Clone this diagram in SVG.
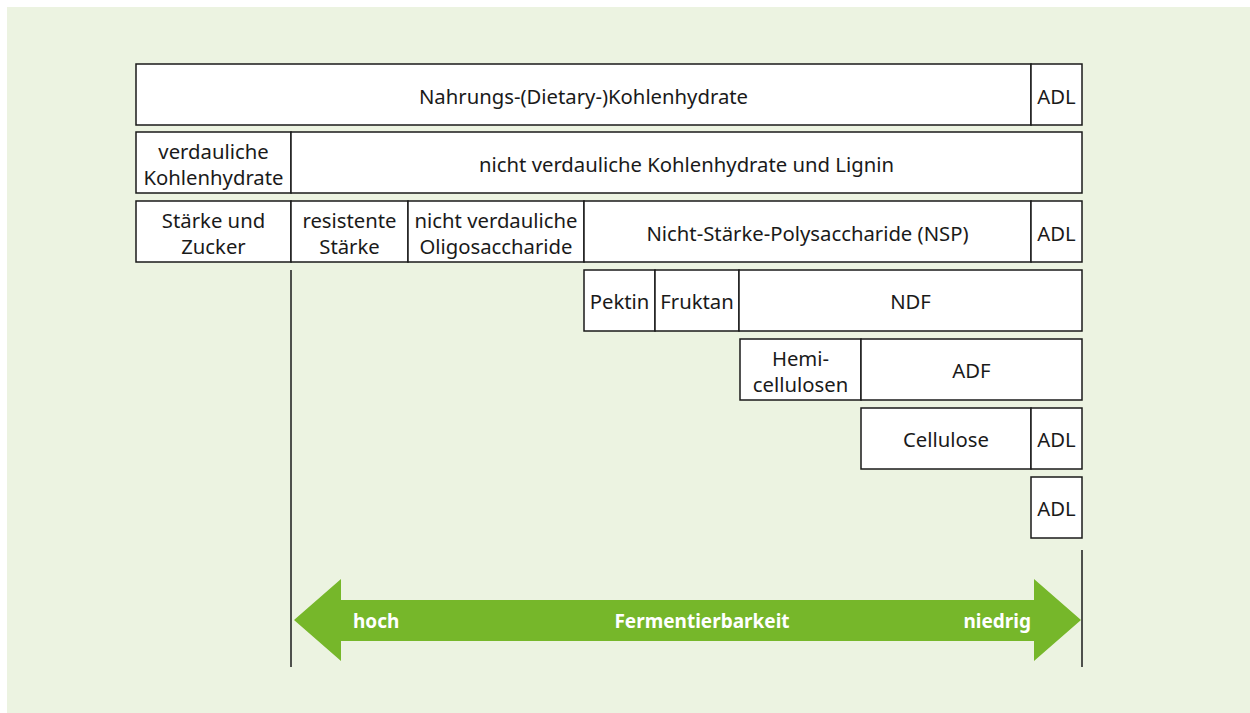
<svg xmlns="http://www.w3.org/2000/svg" width="1250" height="713" viewBox="0 0 1250 713">
<style>
.b{fill:#fff;stroke:#1a1a1a;stroke-width:1.5}
.t{font-family:"Noto Sans","Open Sans",sans-serif;font-size:20.3px;fill:#1a1a1a;text-anchor:middle}
.w{font-family:"Noto Sans","Open Sans",sans-serif;font-size:19px;font-weight:bold;fill:#fff}
.l{stroke:#1a1a1a;stroke-width:1.5;fill:none}
</style>
<rect x="0" y="0" width="1250" height="713" fill="#fff"/>
<rect x="7" y="7" width="1243" height="706" fill="#ecf3e1"/>
<g id="n-nahrung"><rect class="b" x="136" y="64" width="895" height="61"/><text class="t" x="583.5" y="104">Nahrungs-(Dietary-)Kohlenhydrate</text></g>
<g id="n-adl1"><rect class="b" x="1031" y="64" width="51" height="61"/><text class="t" x="1056.5" y="104">ADL</text></g>
<g id="n-verd"><rect class="b" x="136" y="132" width="155" height="61"/><text class="t" x="213.5" y="159">verdauliche</text><text class="t" x="213.5" y="185">Kohlenhydrate</text></g>
<g id="n-nichtverd"><rect class="b" x="291" y="132" width="791" height="61"/><text class="t" x="686.5" y="172">nicht verdauliche Kohlenhydrate und Lignin</text></g>
<g id="n-staerke"><rect class="b" x="136" y="201" width="155" height="61"/><text class="t" x="213.5" y="228">Stärke und</text><text class="t" x="213.5" y="254">Zucker</text></g>
<g id="n-resist"><rect class="b" x="291" y="201" width="117" height="61"/><text class="t" x="349.5" y="228">resistente</text><text class="t" x="349.5" y="254">Stärke</text></g>
<g id="n-oligo"><rect class="b" x="408" y="201" width="176" height="61"/><text class="t" x="496" y="228">nicht verdauliche</text><text class="t" x="496" y="254">Oligosaccharide</text></g>
<g id="n-nsp"><rect class="b" x="584" y="201" width="447" height="61"/><text class="t" x="807.5" y="241">Nicht-Stärke-Polysaccharide (NSP)</text></g>
<g id="n-adl2"><rect class="b" x="1031" y="201" width="51" height="61"/><text class="t" x="1056.5" y="241">ADL</text></g>
<g id="n-pektin"><rect class="b" x="584" y="270" width="71" height="61"/><text class="t" x="619.5" y="309">Pektin</text></g>
<g id="n-fruktan"><rect class="b" x="655" y="270" width="84" height="61"/><text class="t" x="697" y="309">Fruktan</text></g>
<g id="n-ndf"><rect class="b" x="739" y="270" width="343" height="61"/><text class="t" x="910.5" y="309">NDF</text></g>
<g id="n-hemi"><rect class="b" x="740" y="339" width="121" height="61"/><text class="t" x="800.5" y="366">Hemi-</text><text class="t" x="800.5" y="392">cellulosen</text></g>
<g id="n-adf"><rect class="b" x="861" y="339" width="221" height="61"/><text class="t" x="971.5" y="378">ADF</text></g>
<g id="n-cell"><rect class="b" x="861" y="408" width="170" height="61"/><text class="t" x="946" y="447">Cellulose</text></g>
<g id="n-adl3"><rect class="b" x="1031" y="408" width="51" height="61"/><text class="t" x="1056.5" y="447">ADL</text></g>
<g id="n-adl4"><rect class="b" x="1031" y="477" width="51" height="61"/><text class="t" x="1056.5" y="516">ADL</text></g>
<g id="connectors">
<line class="l" x1="291" y1="270" x2="291" y2="667"/>
<line class="l" x1="1082" y1="550" x2="1082" y2="667"/>
</g>
<g id="arrow">
<polygon fill="#76b72a" points="294,620 341,579 341,600 1034,600 1034,579 1081,620 1034,661 1034,641 341,641 341,661"/>
<text class="w" x="353" y="628">hoch</text>
<text class="w" x="702" y="628" text-anchor="middle">Fermentierbarkeit</text>
<text class="w" x="1031" y="628" text-anchor="end">niedrig</text>
</g>
</svg>
